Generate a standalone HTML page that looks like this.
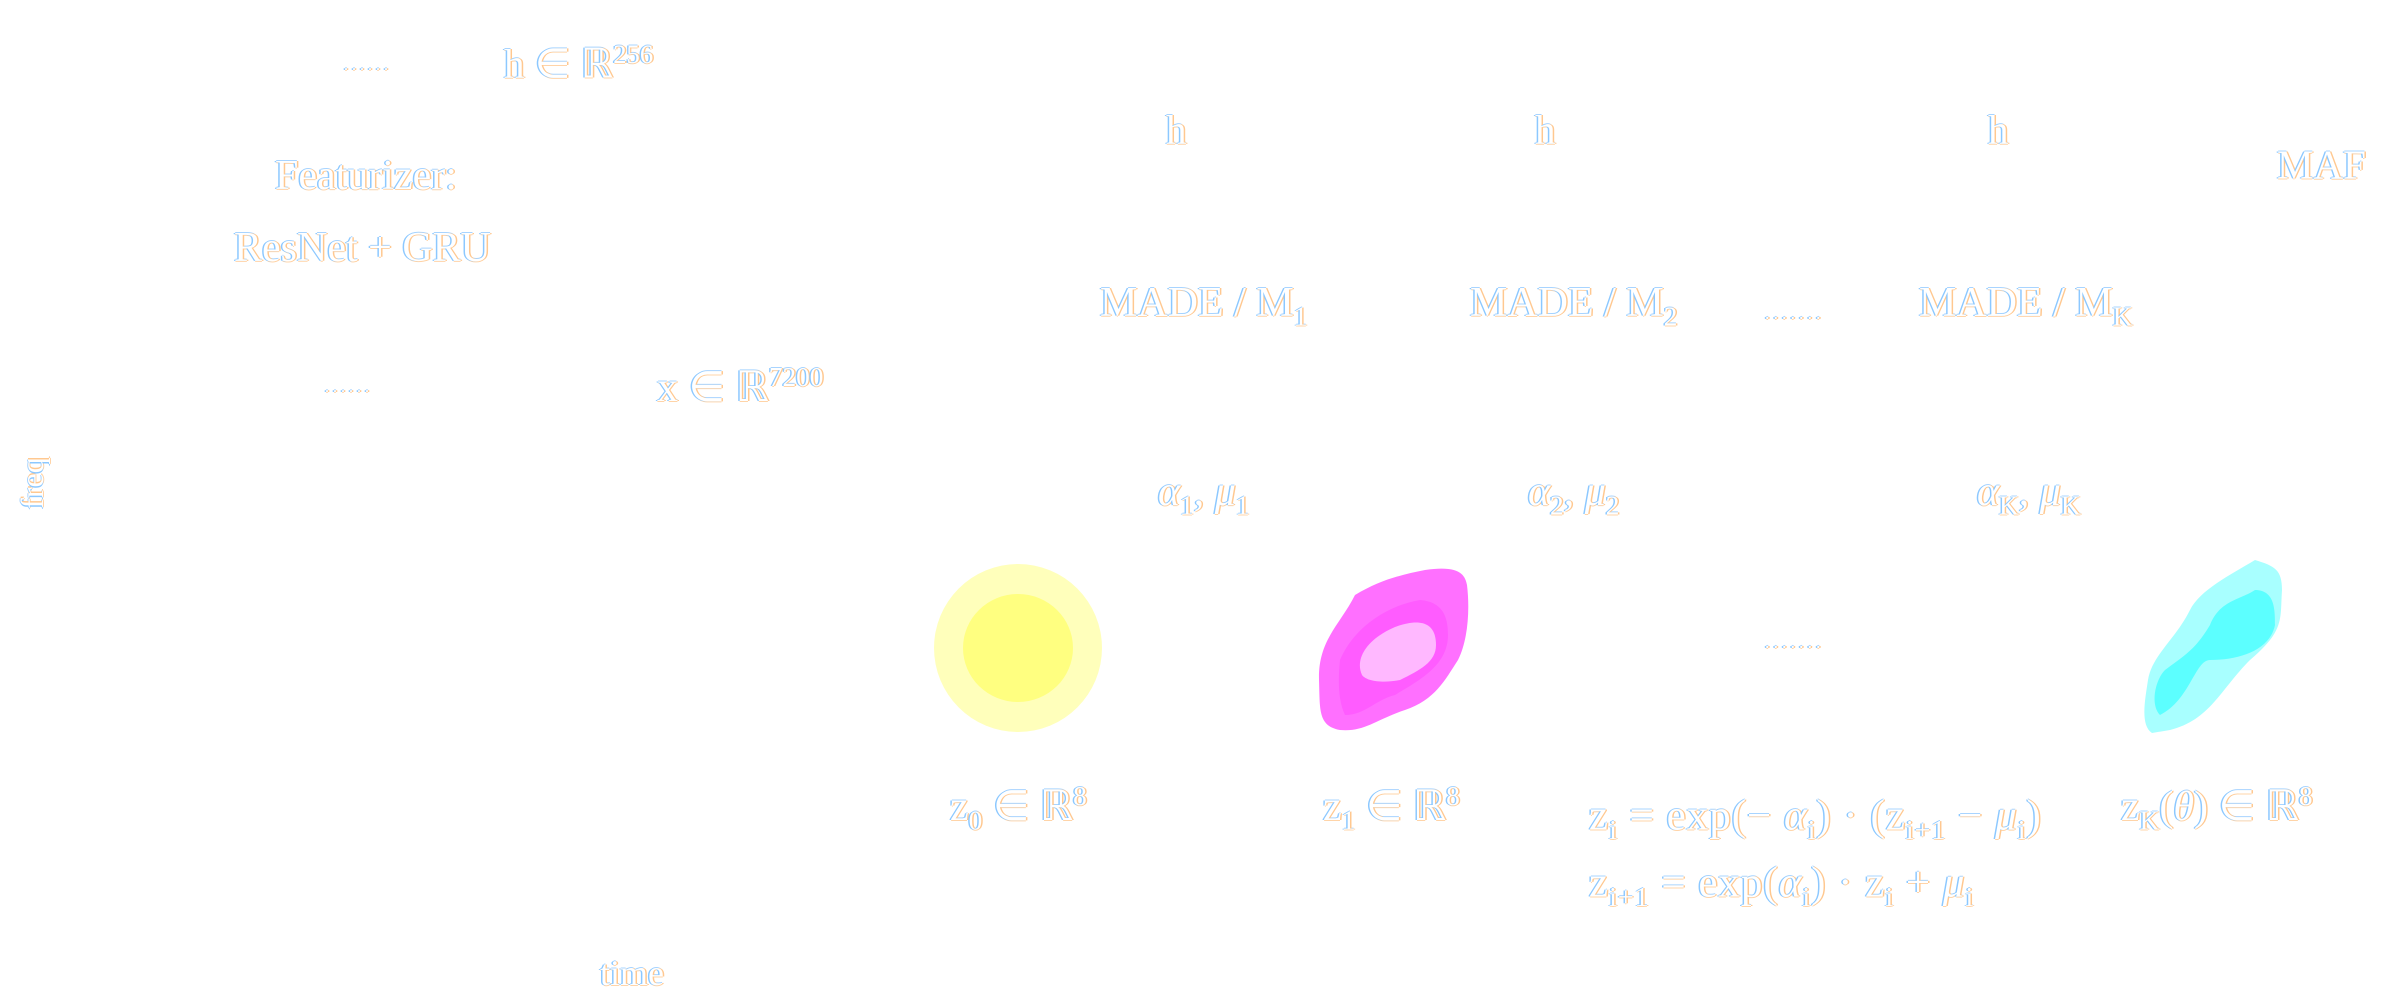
<!DOCTYPE html>
<html><head><meta charset="utf-8"><style>
body{margin:0;width:2396px;height:1008px;background:#fff;position:relative;overflow:hidden;font-family:"Liberation Serif",serif;}
.t{position:absolute;color:#fff;white-space:nowrap;line-height:1;transform:translateY(-50%);text-shadow:-1.5px 0 #8cc8ff,1.5px 0 #ffc890,0 -1px #a8d4ff,0 1px #ffd4a8;font-size:41px;}
sub,sup{font-size:65%;line-height:0}
i{font-style:italic}
.d{letter-spacing:4px}
</style></head><body>
<div class="t d" style="left:344px;top:66px;font-size:16px">......</div>
<div class="t" style="left:504px;top:64px">h ∈ ℝ<sup>256</sup></div>
<div class="t" style="left:275px;top:176px;font-size:42px">Featurizer:</div>
<div class="t" style="left:234px;top:248px;font-size:42px">ResNet + GRU</div>
<div class="t d" style="left:325px;top:388px;font-size:16px">......</div>
<div class="t" style="left:657px;top:388px;font-size:42px">x ∈ ℝ<sup>7200</sup></div>
<div class="t" style="left:6px;top:483px;font-size:32px;transform:translateY(-50%) rotate(-90deg)">freq</div>
<div class="t" style="left:1166px;top:130px">h</div>
<div class="t" style="left:1535px;top:130px">h</div>
<div class="t" style="left:1988px;top:130px">h</div>
<div class="t" style="left:2277px;top:165px">MAF</div>
<div class="t" style="left:1100px;top:303px;font-size:42px">MADE / M<sub>1</sub></div>
<div class="t" style="left:1470px;top:303px;font-size:42px">MADE / M<sub>2</sub></div>
<div class="t d" style="left:1765px;top:313px;font-size:18px">.......</div>
<div class="t" style="left:1919px;top:303px;font-size:42px">MADE / M<sub>K</sub></div>
<div class="t" style="left:1158px;top:492px;font-size:42px"><i>α</i><sub>1</sub>, <i>μ</i><sub>1</sub></div>
<div class="t" style="left:1528px;top:492px;font-size:42px"><i>α</i><sub>2</sub>, <i>μ</i><sub>2</sub></div>
<div class="t" style="left:1977px;top:492px;font-size:42px"><i>α</i><sub>K</sub>, <i>μ</i><sub>K</sub></div>
<div class="t d" style="left:1765px;top:642px;font-size:18px">.......</div>
<div class="t" style="left:950px;top:807px;font-size:42px">z<sub>0</sub> ∈ ℝ<sup>8</sup></div>
<div class="t" style="left:1323px;top:807px;font-size:42px">z<sub>1</sub> ∈ ℝ<sup>8</sup></div>
<div class="t" style="left:2121px;top:807px;font-size:42px">z<sub>K</sub>(<i>θ</i>) ∈ ℝ<sup>8</sup></div>
<div class="t" style="left:1589px;top:816px;font-size:43px;letter-spacing:1px">z<sub>i</sub> = exp(− <i>α</i><sub>i</sub>) · (z<sub>i+1</sub> − <i>μ</i><sub>i</sub>)</div>
<div class="t" style="left:1589px;top:883px;font-size:43px;letter-spacing:1px">z<sub>i+1</sub> = exp(<i>α</i><sub>i</sub>) · z<sub>i</sub> + <i>μ</i><sub>i</sub></div>
<div class="t" style="left:600px;top:973px;font-size:36px">time</div>
<svg style="position:absolute;left:0;top:0" width="2396" height="1008">
<ellipse cx="1018" cy="648" rx="84" ry="84" fill="#ffffbb"/>
<ellipse cx="1018" cy="648" rx="55" ry="54" fill="#ffff80"/>
<g transform="translate(0,30)">
<path d="M1340,700 C1318,696 1320,680 1319,650 C1318,610 1340,595 1355,565 C1380,550 1400,545 1425,540 C1460,535 1465,545 1467,555 C1470,580 1468,610 1458,630 C1445,650 1435,670 1405,680 C1375,690 1365,702 1340,700 Z" fill="#ff70ff"/>
<path d="M1345,685 C1338,670 1338,650 1340,630 C1355,595 1390,575 1420,570 C1445,572 1448,590 1448,605 C1448,635 1420,650 1395,665 C1375,670 1365,685 1345,685 Z" fill="#ff5cff"/>
<path d="M1362,645 C1355,630 1365,610 1395,597 C1420,588 1436,592 1436,615 C1436,632 1420,640 1400,650 C1385,653 1367,652 1362,645 Z" fill="#ffb8ff"/>
</g>
<path d="M2152,733 C2140,725 2145,700 2148,680 C2152,655 2175,640 2190,610 C2200,590 2230,575 2255,560 C2275,566 2282,570 2282,590 C2280,620 2285,630 2250,660 C2220,690 2210,720 2170,730 Z" fill="#a8ffff"/>
<path d="M2160,715 C2150,705 2155,680 2165,670 C2185,655 2195,650 2210,625 C2220,600 2240,600 2255,590 C2275,590 2275,610 2275,625 C2270,650 2240,660 2210,660 C2195,660 2190,700 2160,715 Z" fill="#5cffff"/>
</svg>
</body></html>
